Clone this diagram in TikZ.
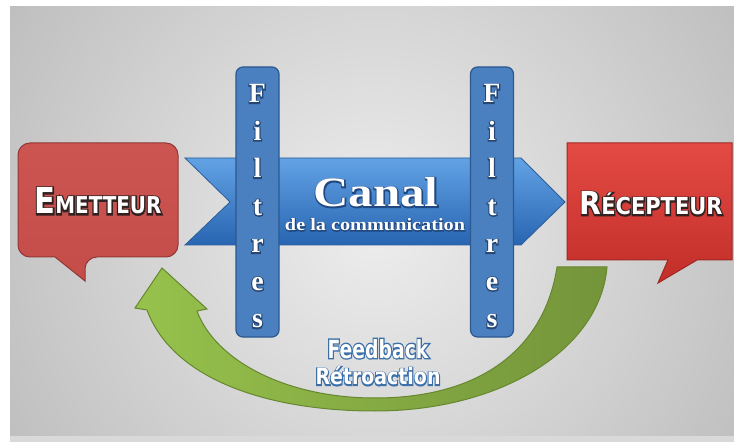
\documentclass[tikz,border=0pt]{standalone}
\usepackage{fontspec}
\usepackage{graphicx}
\setmainfont{Liberation Serif}
\newfontfamily\blockfont{DejaVu Sans}
\newfontfamily\serifblock{Liberation Serif}

\definecolor{slidemid}{gray}{0.93}
\definecolor{slideedge}{gray}{0.58}
\definecolor{redsoft}{HTML}{C44D4A}
\definecolor{redsofttop}{HTML}{CC5552}
\definecolor{redsoftline}{HTML}{933735}
\definecolor{redtop}{HTML}{E44A44}
\definecolor{redbot}{HTML}{C22E29}
\definecolor{redline}{HTML}{A02824}
\definecolor{canaltop}{HTML}{62A2E4}
\definecolor{canalbot}{HTML}{2865B2}
\definecolor{canalline}{HTML}{2C5C98}
\definecolor{barfill}{HTML}{4A7FC0}
\definecolor{barline}{HTML}{2B5990}
\definecolor{greenlight}{HTML}{96C24C}
\definecolor{greendark}{HTML}{74943A}
\definecolor{greenline}{HTML}{66872F}

% white letters over a stroked dark rim (rim colour as rgb numbers, stroke width)
\newbox\edgebox
\newcommand\edgetext[3]{%
  \setbox\edgebox=\hbox{#3}%
  \rlap{\color{black}\special{pdf:literal direct 2 Tr #2 w #1 RG #1 rg}\copy\edgebox\special{pdf:literal direct 0 Tr}}%
  {\color{white}\box\edgebox}}

\tikzset{
  emetbox/.style={draw=redsoftline, line width=1bp, top color=redsofttop, bottom color=redsoft},
  recepbox/.style={draw=redline, line width=1bp, top color=redtop, bottom color=redbot},
  canalarrow/.style={draw=canalline, line width=0.8bp, top color=canaltop, bottom color=canalbot},
  filterbar/.style={draw=barline, line width=1.2bp, fill=barfill, rounded corners=7bp,
    minimum width=43bp, minimum height=270bp, inner sep=0pt},
  filterletter/.style={anchor=base, inner sep=0pt, font=\serifblock\bfseries\fontsize{28}{28}\selectfont},
  feedarrow/.style={draw=greenline, line width=1bp, left color=greenlight, right color=greendark},
  label/.style={anchor=base, inner sep=0pt}
}

\begin{document}
\begin{tikzpicture}[x=1bp,y=-1bp]
        \useasboundingbox (0,0) rectangle (734,442);

        % Background
        \fill[white] (0,0) rectangle (734,442);
        \fill[gray!30] (10,435) rectangle (734,442);
        \begin{scope}
            \clip (10,7) rectangle (734,435);
            \shade[inner color=slidemid, outer color=slideedge] (375,228) circle (820);
        \end{scope}

        % Feedback arrow
        \draw[feedarrow] (557,267) .. controls (545,345) and (485,398) .. (375,398)
            .. controls (285,398) and (215,360) .. (197,311) -- (207,309) -- (162,268)
            -- (135,308) -- (147,310) .. controls (172,378) and (265,411) .. (375,411)
            .. controls (500,411) and (600,350) .. (607,267) -- cycle;

        % Canal
        \draw[canalarrow] (185,158) -- (521,158) -- (565,202) -- (521,245) -- (185,245) -- (230,202) -- cycle;

        % Filtres
        \node[filterbar] (filtreG) at (257.5,202) {};
        \node[filterbar] (filtreD) at (492,202) {};
        \foreach \c [count=\i] in {F,i,l,t,r,e,s} {
            \node[filterletter] (fg\i) at (257.5,65.5+37.5*\i) {\edgetext{0.15 0.28 0.45}{2.2}{\c}};
            \node[filterletter] (fd\i) at (492,65.5+37.5*\i) {\edgetext{0.15 0.28 0.45}{2.2}{\c}};
        }

        % Emetteur
        \draw[emetbox] (55,257) [rounded corners=12bp] -- (18,257) -- (18,143) -- (178,143)
            -- (178,257) -- (85,257) [sharp corners] -- (85,281) -- cycle;

        % Recepteur
        \draw[recepbox] (567,143) -- (732,143) -- (732,260) -- (697,260) -- (658,283) -- (668,260) -- (567,260) -- cycle;

        % Labels
        \node[label] (emetteur) at (98,214) {\edgetext{0.2 0.13 0.13}{0.9}{\resizebox{127bp}{26bp}{\blockfont\bfseries\fontsize{10}{10}\selectfont E\fontsize{6.5}{6.5}\selectfont METTEUR}}};
        \node[label] (recepteur) at (651,215) {\edgetext{0.2 0.13 0.13}{0.9}{\resizebox{143bp}{23bp}{\blockfont\bfseries\fontsize{10}{10}\selectfont R\fontsize{7.4}{7.4}\selectfont\smash{É}CEPTEUR}}};
        \node[label] (canal) at (376,207) {\edgetext{0.12 0.28 0.5}{0.5}{\resizebox{125bp}{29bp}{\serifblock\bfseries Canal}}};
        \node[label] (canalsub) at (375,231) {\edgetext{0.12 0.28 0.5}{0.8}{\resizebox{180bp}{12bp}{\serifblock\bfseries de la communication}}};
        \node[label] (feedback) at (378,358) {\edgetext{0.24 0.44 0.66}{1.1}{\resizebox{101bp}{19bp}{\blockfont\bfseries Feedback}}};
        \node[label] (retro) at (378,385) {\edgetext{0.24 0.44 0.66}{1.1}{\resizebox{125bp}{18bp}{\blockfont\bfseries Rétroaction}}};
\end{tikzpicture}
\end{document}
